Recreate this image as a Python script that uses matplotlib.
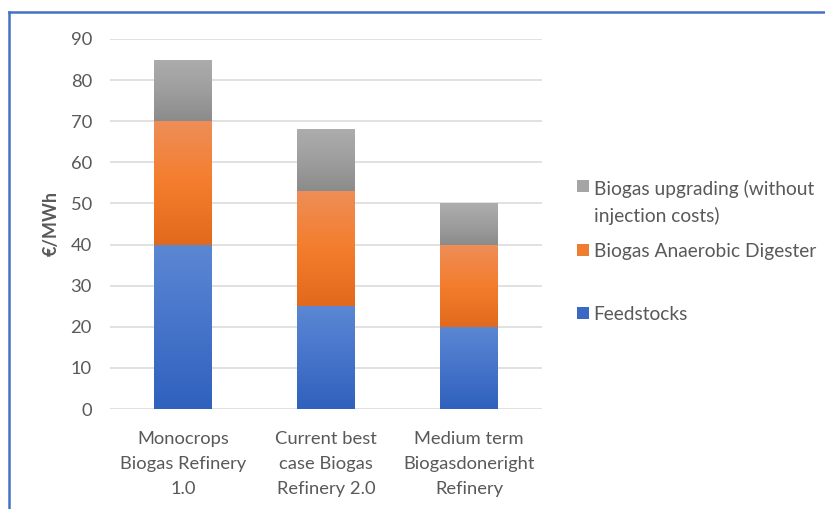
import numpy as np
import matplotlib
matplotlib.use("Agg")
import matplotlib.pyplot as plt
from matplotlib.colors import LinearSegmentedColormap
from matplotlib.lines import Line2D

# Cost breakdown of biomethane production (€/MWh)
categories = ["Monocrops\nBiogas Refinery\n1.0",
              "Current best\ncase Biogas\nRefinery 2.0",
              "Medium term\nBiogasdoneright\nRefinery"]
feedstocks = [40, 25, 20]
digester = [30, 28, 20]
upgrading = [15, 15, 10]
series_names = ["Feedstocks", "Biogas Anaerobic Digester",
                "Biogas upgrading (without\ninjection costs)"]
y_ticks = [0, 10, 20, 30, 40, 50, 60, 70, 80, 90]

# vertical gradient stops (top, middle, bottom) for each series
gradients = [
    ["#5B87D3", "#4674CA", "#2F61BD"],
    ["#EE8E58", "#F47D2D", "#E0691C"],
    ["#ADADAD", "#9E9E9E", "#8B8B8B"],
]
legend_colors = ["#3A69C4", "#ED7D31", "#A5A5A5"]

plt.rcParams["font.family"] = ["Lato", "DejaVu Sans"]
text_color = "#595959"

fig = plt.figure(figsize=(8.25, 5.09), dpi=100)
ax = fig.add_axes([110 / 825, 1 - 409 / 509, 432 / 825, 370 / 509])

x = np.arange(len(categories))
width = 0.405
bottoms = np.zeros(len(categories))
containers = []
for vals, cols, lc in zip([feedstocks, digester, upgrading], gradients, legend_colors):
    bc = ax.bar(x, vals, width, bottom=bottoms, color=lc, linewidth=0, zorder=2)
    containers.append(bc)
    cmap = LinearSegmentedColormap.from_list("g", cols[::-1])
    grad = np.linspace(0, 1, 256).reshape(-1, 1)
    for p in bc.patches:
        x0, y0 = p.get_x(), p.get_y()
        w, h = p.get_width(), p.get_height()
        im = ax.imshow(grad, cmap=cmap, origin="lower", aspect="auto",
                       extent=[x0, x0 + w, y0, y0 + h], zorder=3,
                       interpolation="bilinear")
        im.set_clip_path(p)
    bottoms += np.array(vals)

ax.set_xlim(-0.51, 2.51)
ax.set_ylim(0, 90)
ax.set_yticks(y_ticks)
ax.set_xticks(x)
ax.set_xticklabels(categories, linespacing=1.7)
ax.tick_params(axis="both", length=0, labelsize=13.2, labelcolor=text_color)
ax.tick_params(axis="y", pad=13)
ax.tick_params(axis="x", pad=16)
ax.grid(axis="y", color="#D9D9D9", linewidth=1.1, zorder=0)
ax.set_axisbelow(True)
for s in ax.spines.values():
    s.set_visible(False)

ax.set_ylabel("€/MWh", fontsize=13, fontweight="bold", color=text_color, labelpad=8)

# legend entries placed individually, top to bottom
legend_pos = [(577 / 825, 1 - 180 / 509), (577 / 825, 1 - 252 / 509), (577 / 825, 1 - 315 / 509)]
legend_loc = ["upper left", "center left", "center left"]
order = [2, 1, 0]
for idx, pos, loc in zip(order, legend_pos, legend_loc):
    leg = fig.legend([containers[idx]], [series_names[idx]], loc=loc,
                     bbox_to_anchor=pos, frameon=False, fontsize=13.8,
                     handlelength=0.62, handleheight=0.62, handletextpad=0.25,
                     borderpad=0, borderaxespad=0, labelcolor=text_color)
    for t in leg.get_texts():
        t.set_linespacing(1.6)
    # keep the swatch level with the first line of a wrapped label
    try:
        for col in leg._legend_handle_box.get_children():
            for item in col.get_children():
                item.align = "top"
    except AttributeError:
        pass

# frame around the chart area
fig.add_artist(Line2D([9 / 825, 1.0], [1 - 12 / 509, 1 - 12 / 509],
                      transform=fig.transFigure, color="#4472C4", linewidth=1.8))
fig.add_artist(Line2D([9 / 825, 9 / 825], [0.0, 1 - 12 / 509],
                      transform=fig.transFigure, color="#4472C4", linewidth=1.8))

fig.savefig("out.png", dpi=100)
